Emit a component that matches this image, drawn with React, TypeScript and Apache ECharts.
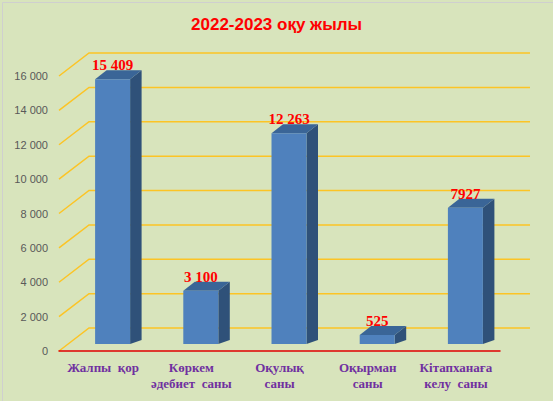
import React, { useEffect, useRef } from "react";
import * as echarts from "echarts";

// categories and values
const categories = [
  "Жалпы  қор",
  "Көркем\nәдебиет  саны",
  "Оқулық\nсаны",
  "Оқырман\nсаны",
  "Кітапханаға\nкелу  саны",
];
const values = [15409, 3100, 12263, 525, 7927];
const valueLabels = ["15 409", "3 100", "12 263", "525", "7927"];
const yTicks = [0, 2000, 4000, 6000, 8000, 10000, 12000, 14000, 16000];

const fmtTick = (v: number) => (v >= 1000 ? `${Math.floor(v / 1000)} 000` : `${v}`);

// pseudo-3D geometry (px)
const WALL_DX = 30;
const WALL_DY = -23;
const BAR_W = 35;
const BAR_SHIFT_X = 9.5;
const BAR_SHIFT_Y = -7;
const DEPTH_X = 11.5;
const DEPTH_TOP_Y = -9;
const DEPTH_BOTTOM_Y = -4;

const App: React.FC = () => {
  const chartRef = useRef<HTMLDivElement>(null);

  useEffect(() => {
    document.body.style.margin = "0";
    const chart = echarts.init(chartRef.current!, null, { renderer: "svg" });

    const option: echarts.EChartsOption = {
      animation: false,
      backgroundColor: "#d8e4bc",
      title: {
        text: "2022-2023 оқу жылы",
        left: "center",
        top: 11,
        textStyle: {
          color: "#ff0000",
          fontSize: 17,
          fontWeight: "bold",
          fontFamily: "Liberation Sans",
        },
      },
      graphic: [
        {
          type: "rect",
          left: 0,
          top: 0,
          shape: { width: 552, height: 400 },
          style: { fill: "none", stroke: "#cfcfcf", lineWidth: 1 },
          silent: true,
        },
      ],
      grid: { left: 59, right: 53, top: 76, bottom: 50 },
      xAxis: {
        type: "category",
        data: categories,
        axisLine: { lineStyle: { color: "#e00000", width: 1.5 } },
        axisTick: { show: false },
        axisLabel: {
          margin: 9,
          interval: 0,
          color: "#7030a0",
          fontSize: 13,
          fontWeight: "bold",
          fontFamily: "Liberation Serif",
          lineHeight: 15.5,
        },
        z: 5,
      },
      yAxis: {
        type: "value",
        min: 0,
        max: 16000,
        interval: 2000,
        axisLine: { show: false },
        axisTick: { show: false },
        splitLine: { show: false },
        axisLabel: {
          margin: 11,
          color: "#595959",
          fontSize: 11,
          fontFamily: "Liberation Sans",
          formatter: (v: number) => fmtTick(v),
        },
      },
      series: [
        {
          type: "custom",
          z: 1,
          silent: true,
          data: yTicks.map((v) => [0, v]),
          renderItem: (params: any, api: any) => {
            const cs = params.coordSys;
            const y = api.coord([0, api.value(1)])[1];
            const x0 = cs.x;
            const x1 = cs.x + cs.width + WALL_DX;
            return {
              type: "polyline",
              shape: {
                points: [
                  [x0, y],
                  [x0 + WALL_DX, y + WALL_DY],
                  [x1, y + WALL_DY],
                ],
              },
              style: { stroke: "#fcc425", lineWidth: 1.5, fill: "none" },
            };
          },
        },
        {
          type: "custom",
          z: 3,
          data: values.map((v, i) => [i, v]),
          renderItem: (params: any, api: any) => {
            const i = api.value(0);
            const top = api.coord([i, api.value(1)]);
            const base = api.coord([i, 0]);
            const cx = top[0] + BAR_SHIFT_X;
            const xl = cx - BAR_W / 2;
            const xr = cx + BAR_W / 2;
            const yt = top[1] + BAR_SHIFT_Y;
            const yb = base[1] + BAR_SHIFT_Y;
            return {
              type: "group",
              children: [
                {
                  type: "polygon",
                  shape: {
                    points: [
                      [xr, yt],
                      [xr + DEPTH_X, yt + DEPTH_TOP_Y],
                      [xr + DEPTH_X, yb + DEPTH_BOTTOM_Y],
                      [xr, yb],
                    ],
                  },
                  style: { fill: "#2f5179" },
                },
                {
                  type: "polygon",
                  shape: {
                    points: [
                      [xl, yt],
                      [xl + DEPTH_X, yt + DEPTH_TOP_Y],
                      [xr + DEPTH_X, yt + DEPTH_TOP_Y],
                      [xr, yt],
                    ],
                  },
                  style: { fill: "#3a6597" },
                },
                {
                  type: "rect",
                  shape: { x: xl, y: yt, width: BAR_W, height: yb - yt },
                  style: { fill: "#4f81bd" },
                },
                {
                  type: "text",
                  x: cx,
                  y: yt - 14,
                  style: {
                    text: valueLabels[params.dataIndex],
                    fill: "#ff0000",
                    fontSize: 15,
                    fontWeight: "bold",
                    fontFamily: "Liberation Serif",
                    align: "center",
                    verticalAlign: "middle",
                  },
                },
              ],
            };
          },
        },
      ],
    };

    chart.setOption(option);

    return () => {
      chart.dispose();
    };
  }, []);

  return <div ref={chartRef} style={{ width: "553px", height: "401px" }} />;
};

export default App;
